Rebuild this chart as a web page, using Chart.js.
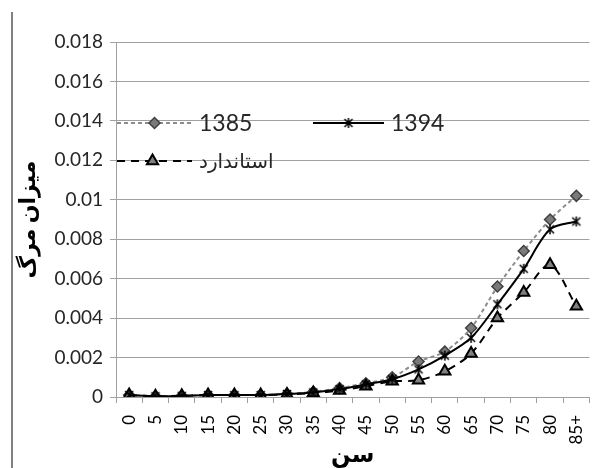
<!DOCTYPE html>
<html>
<head>
<meta charset="utf-8">
<script src="https://cdn.jsdelivr.net/npm/chart.js@4/dist/chart.umd.min.js"></script>
<style>
  html, body { margin: 0; padding: 0; background: #fff; overflow: hidden; }
  #wrap { position: absolute; left: 0; top: 0; width: 598px; height: 468px; }
  #frame { position: absolute; left: 11px; top: 12px; width: 2px; height: 456px; background: #808080; }
</style>
</head>
<body>
<div id="wrap"><canvas id="c" width="598" height="468"></canvas></div>
<div id="frame"></div>
<script>
// ---- data ----
const ages = ['0','5','10','15','20','25','30','35','40','45','50','55','60','65','70','75','80','85+'];
const rate1385 = [0.0001,0.00004,0.00006,0.0001,0.0001,0.0001,0.00016,0.00026,0.00045,0.0007,0.001,0.0018,0.0023,0.0035,0.0056,0.0074,0.009,0.0102];
const rate1394 = [0.0001,0.00004,0.00006,0.0001,0.0001,0.0001,0.00015,0.00023,0.0004,0.00064,0.0009,0.0014,0.0021,0.0030,0.0047,0.0065,0.0085,0.0089];
const rateStd  = [0.0001,0.00004,0.00006,0.0001,0.0001,0.0001,0.00013,0.0002,0.00033,0.00055,0.0008,0.00085,0.0013,0.0022,0.0040,0.0053,0.0067,0.0046];
const seriesNames = ['1385','1394','استاندارد'];
const yTickValues = [0,0.002,0.004,0.006,0.008,0.01,0.012,0.014,0.016,0.018];
const xTitle = 'سن';
const yTitle = 'میزان مرگ';

const FONT = "Lato, 'DejaVu Sans', sans-serif";

// asterisk marker (X + vertical bar)
function makeStar(r) {
  const s = r * 2 + 4;
  const cv = document.createElement('canvas');
  cv.width = s; cv.height = s;
  const g = cv.getContext('2d');
  const c = s / 2;
  g.strokeStyle = '#000';
  g.lineWidth = 1.5;
  g.beginPath();
  g.moveTo(c, c - r); g.lineTo(c, c + r);
  g.moveTo(c - r * 0.8, c - r * 0.8); g.lineTo(c + r * 0.8, c + r * 0.8);
  g.moveTo(c + r * 0.8, c - r * 0.8); g.lineTo(c - r * 0.8, c + r * 0.8);
  g.stroke();
  return cv;
}
const starImg = makeStar(5);

const legendPlugin = {
  id: 'manualLegend',
  afterDatasetsDraw(chart) {
    const ctx = chart.ctx;
    const items = [
      { ds: 0, x1: 117, x2: 192, y: 123, tx: 199, font: '23px ' + FONT },
      { ds: 1, x1: 313, x2: 384, y: 123, tx: 391, font: '23px ' + FONT },
      { ds: 2, x1: 117, x2: 192, y: 161, tx: 199, font: '20px ' + FONT }
    ];
    items.forEach((it, i) => {
      const ds = chart.data.datasets[it.ds];
      ctx.save();
      ctx.strokeStyle = ds.borderColor;
      ctx.lineWidth = ds.borderWidth;
      ctx.setLineDash(ds.borderDash || []);
      ctx.beginPath();
      ctx.moveTo(it.x1, it.y);
      ctx.lineTo(it.x2, it.y);
      ctx.stroke();
      ctx.setLineDash([]);
      ctx.fillStyle = ds.pointBackgroundColor;
      ctx.strokeStyle = ds.pointBorderColor;
      ctx.lineWidth = ds.pointBorderWidth;
      Chart.helpers.drawPoint(ctx, {
        pointStyle: ds.pointStyle,
        radius: ds.pointRadius,
        borderWidth: ds.pointBorderWidth,
        rotation: 0
      }, (it.x1 + it.x2) / 2 + (it.ds === 2 ? -2 : 0), it.y);
      ctx.fillStyle = '#262626';
      ctx.font = it.font;
      ctx.textAlign = 'left';
      ctx.textBaseline = 'middle';
      ctx.fillText(seriesNames[i], it.tx, it.y + 1);
      ctx.restore();
    });
  }
};

const chart = new Chart(document.getElementById('c'), {
  type: 'line',
  data: {
    labels: ages,
    datasets: [
      {
        label: seriesNames[0], data: rate1385,
        borderColor: '#8c8c8c', borderWidth: 2, borderDash: [4, 3],
        pointStyle: 'rectRot', pointRadius: 5.5, pointBorderWidth: 1.5,
        pointBackgroundColor: '#7a7a7a', pointBorderColor: '#404040',
        tension: 0.3, order: 3
      },
      {
        label: seriesNames[1], data: rate1394,
        borderColor: '#000000', borderWidth: 2, borderDash: [],
        pointStyle: starImg, pointRadius: 5, pointBorderWidth: 1,
        pointBackgroundColor: '#000', pointBorderColor: '#000',
        tension: 0.3, order: 1
      },
      {
        label: seriesNames[2], data: rateStd,
        borderColor: '#000000', borderWidth: 2, borderDash: [8, 6],
        pointStyle: 'triangle', pointRadius: 6.5, pointBorderWidth: 2,
        pointBackgroundColor: '#808080', pointBorderColor: '#000',
        tension: 0.3, order: 2
      }
    ]
  },
  options: {
    responsive: false,
    animation: false,
    devicePixelRatio: 1,
    layout: { padding: { top: 42, right: 0, bottom: 0, left: 0 } },
    plugins: { legend: { display: false }, tooltip: { enabled: false } },
    scales: {
      x: {
        offset: true,
        grid: { display: true, drawOnChartArea: false, drawTicks: true, tickLength: 6, offset: true, color: '#a0a0a0' },
        border: { display: true, color: '#a0a0a0', width: 1 },
        ticks: {
          autoSkip: false, maxRotation: 90, minRotation: 90, padding: 12,
          color: '#000', font: { family: FONT, size: 17 }
        },
        title: { display: true, text: xTitle, color: '#000', padding: { top: 0, bottom: 0 },
                 font: { family: FONT, size: 23, weight: 'bold', lineHeight: 1.15 } },
        afterFit(s) { s.height = 71; s.paddingLeft = 0; s.paddingRight = 0; }
      },
      y: {
        min: 0, max: 0.018,
        afterBuildTicks(s) { s.ticks = yTickValues.map(v => ({ value: v })); },
        grid: { color: '#a0a0a0', tickLength: 6, lineWidth: 1 },
        border: { display: true, color: '#a0a0a0', width: 1 },
        ticks: {
          padding: 7, color: '#262626', font: { family: FONT, size: 19 },
          callback: v => (v === 0 ? '0' : String(+Number(v).toFixed(3)))
        },
        title: { display: true, text: yTitle, color: '#000', padding: { top: 15, bottom: 0 },
                 font: { family: FONT, size: 22, weight: 'bold' } },
        afterFit(s) { s.width = 116; s.paddingTop = 0; s.paddingBottom = 0; }
      }
    }
  },
  plugins: [legendPlugin]
});
</script>
</body>
</html>
